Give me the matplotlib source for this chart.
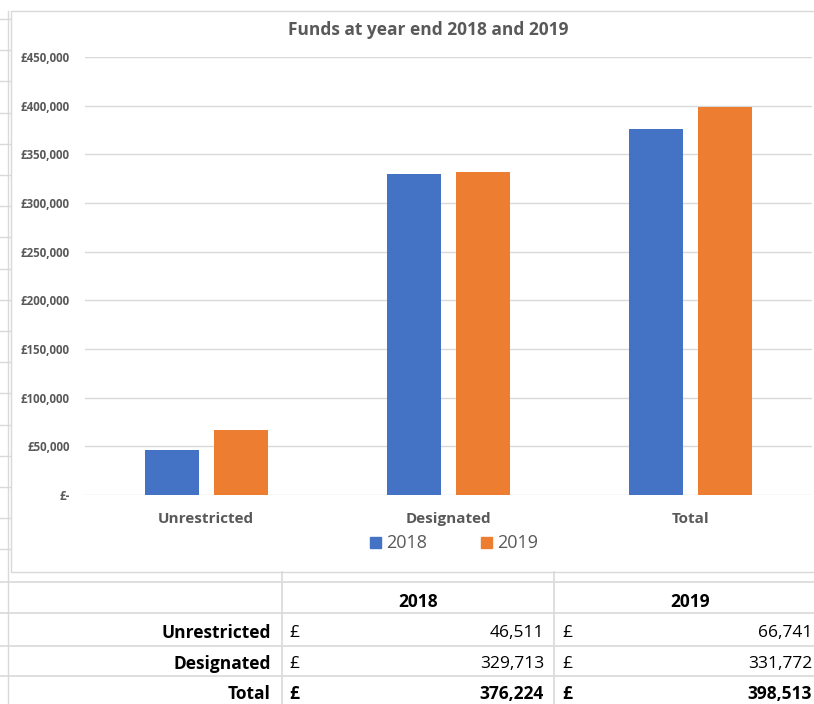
import matplotlib
matplotlib.use("Agg")
import matplotlib.pyplot as plt
from matplotlib.patches import Rectangle
from matplotlib.lines import Line2D

plt.rcParams['font.family'] = ['Open Sans', 'DejaVu Sans']

categories = ["Unrestricted", "Designated", "Total"]
series_names = ["2018", "2019"]
values_2018 = [46511, 329713, 376224]
values_2019 = [66741, 331772, 398513]
ytick_values = [0, 50000, 100000, 150000, 200000, 250000, 300000, 350000, 400000, 450000]
ytick_labels = ["£-", "£50,000", "£100,000", "£150,000", "£200,000", "£250,000",
                "£300,000", "£350,000", "£400,000", "£450,000"]
title = "Funds at year end 2018 and 2019"

W, H = 814, 704
fig = plt.figure(figsize=(W / 100, H / 100), dpi=100)

# overlay in pixel coordinates
ov = fig.add_axes([0, 0, 1, 1])
ov.set_xlim(0, W)
ov.set_ylim(H, 0)
ov.axis("off")

grid_c = "#d9d9d9"
# Excel cell grid at left
ov.add_line(Line2D([8, 8], [11, H], color=grid_c, lw=1))
k = 0
while 19 + 31.2 * k < 572:
    y = 19 + 31.2 * k
    ov.add_line(Line2D([0, 11], [y, y], color=grid_c, lw=1))
    k += 1
# chart border
ov.add_patch(Rectangle((11, 11), W, 561, fill=False, edgecolor=grid_c, lw=1))

# table lines
for y in [582, 613, 646, 676]:
    ov.add_line(Line2D([0, W], [y, y], color=grid_c, lw=1.2))
for x in [282, 554]:
    ov.add_line(Line2D([x, x], [572, H], color=grid_c, lw=1.2))

# table text
row_y = [633, 664, 694]
fs_t = 12.5
for i, (cat, v1, v2) in enumerate(zip(categories, values_2018, values_2019)):
    bold = "bold" if cat == "Total" else "normal"
    ov.text(271, row_y[i], cat, ha="right", va="center", fontsize=fs_t, fontweight="bold", color="black")
    ov.text(289, row_y[i], "£", ha="left", va="center", fontsize=fs_t, fontweight=bold, color="black")
    ov.text(544, row_y[i], f"{v1:,}", ha="right", va="center", fontsize=fs_t, fontweight=bold, color="black")
    ov.text(562, row_y[i], "£", ha="left", va="center", fontsize=fs_t, fontweight=bold, color="black")
    ov.text(812, row_y[i], f"{v2:,}", ha="right", va="center", fontsize=fs_t, fontweight=bold, color="black")
ov.text(418, 602, series_names[0], ha="center", va="center", fontsize=fs_t, fontweight="bold", color="black")
ov.text(690, 602, series_names[1], ha="center", va="center", fontsize=fs_t, fontweight="bold", color="black")

# title
ov.text(428, 30, title, ha="center", va="center", fontsize=12.5, fontweight="bold", color="#595959")

# main chart axes
left, right, top, bottom = 85, 812, 57, 495
ax = fig.add_axes([left / W, 1 - bottom / H, (right - left) / W, (bottom - top) / H])
ax.set_xlim(-0.5, 2.5)
ax.set_ylim(0, 450000)
ax.patch.set_alpha(0)
for s in ax.spines.values():
    s.set_visible(False)
ax.set_yticks(ytick_values)
ax.set_yticklabels(ytick_labels)
ax.yaxis.grid(True, color=grid_c, lw=1)
ax.set_axisbelow(True)
ax.tick_params(axis="y", length=0, pad=11, labelsize=8.3, labelcolor="#595959")
for t in ax.get_yticklabels():
    t.set_fontweight("bold")
ax.set_xticks(range(len(categories)))
ax.set_xticklabels(categories)
ax.tick_params(axis="x", length=0, pad=12, labelsize=11, labelcolor="#595959")
for t in ax.get_xticklabels():
    t.set_fontweight("bold")

xs = list(range(len(categories)))
bw = 0.223
off = 0.142
ax.bar([x - off for x in xs], values_2018, width=bw, color="#4472C4", label=series_names[0], zorder=3)
ax.bar([x + off for x in xs], values_2019, width=bw, color="#ED7D31", label=series_names[1], zorder=3)

# legend
ov.add_patch(Rectangle((370, 537), 11, 11, color="#4472C4"))
ov.text(386, 543, series_names[0], ha="left", va="center", fontsize=13, color="#595959")
ov.add_patch(Rectangle((481, 537), 11, 11, color="#ED7D31"))
ov.text(497, 543, series_names[1], ha="left", va="center", fontsize=13, color="#595959")

fig.savefig("out.png", dpi=100)
